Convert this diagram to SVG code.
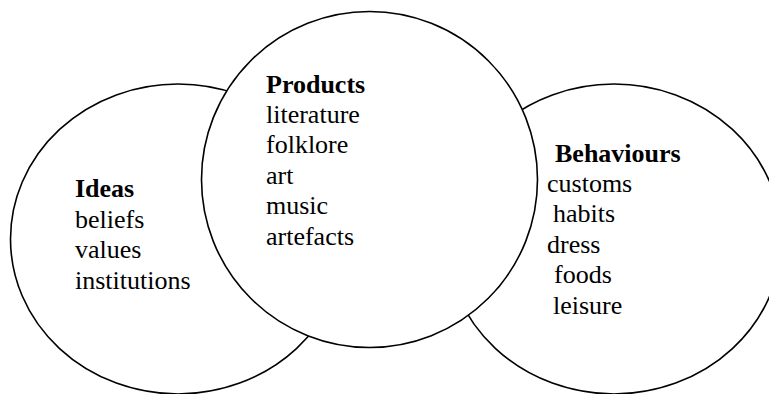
<svg xmlns="http://www.w3.org/2000/svg" width="769" height="394" viewBox="0 0 769 394">
<style>
.c{fill:#fff;stroke:#000;stroke-width:1.6}
text{font-family:"Liberation Serif","Times New Roman",serif;font-size:26px;fill:#000}
.h{font-weight:bold}
</style>
<rect width="769" height="394" fill="#fff"/>
<g id="ideas">
<ellipse class="c" cx="178" cy="239" rx="167.5" ry="155"/>
<text class="h" x="75" y="197.3">Ideas</text>
<text x="75" y="227.5">beliefs</text>
<text x="75" y="258.3">values</text>
<text x="75" y="289.3">institutions</text>
</g>
<g id="behaviours">
<ellipse class="c" cx="614" cy="239" rx="167.5" ry="155"/>
<text class="h" x="555" y="161.7">Behaviours</text>
<text x="547" y="191.7">customs</text>
<text x="553" y="222">habits</text>
<text x="547" y="252.5">dress</text>
<text x="554" y="283">foods</text>
<text x="553" y="314">leisure</text>
</g>
<g id="products">
<circle class="c" cx="369.5" cy="179.5" r="168"/>
<text class="h" x="266" y="92.7">Products</text>
<text x="266" y="123.3">literature</text>
<text x="266" y="153.3">folklore</text>
<text x="266" y="183.5">art</text>
<text x="266" y="214">music</text>
<text x="266" y="245">artefacts</text>
</g>
<g id="connectors"/>
</svg>
